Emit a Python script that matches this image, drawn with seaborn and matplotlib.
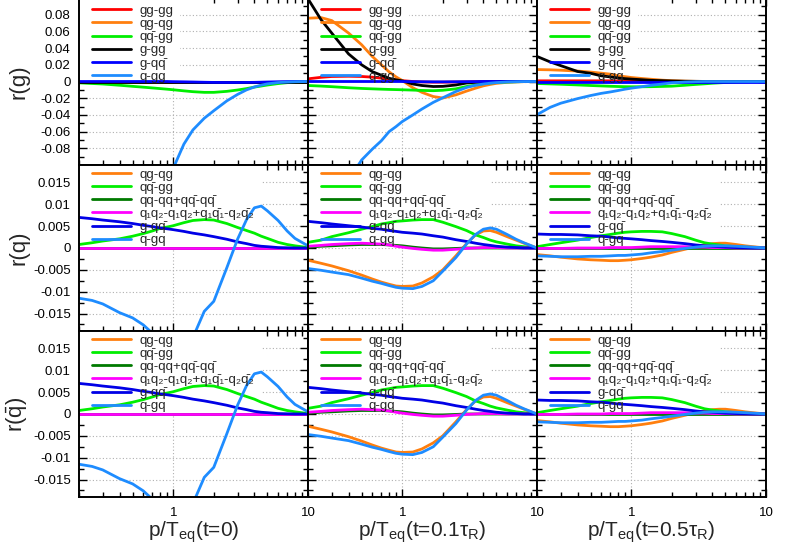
import numpy as np
import pandas as pd
import matplotlib
matplotlib.use("Agg")
import matplotlib.pyplot as plt
import seaborn as sns
from matplotlib.ticker import FixedLocator, NullFormatter, MultipleLocator, FuncFormatter
from matplotlib.patches import Rectangle

sns.set_theme(style="ticks")
plt.rcParams['font.family'] = ['Liberation Sans', 'DejaVu Sans']
plt.rcParams['mathtext.fontset'] = 'custom'
plt.rcParams['mathtext.rm'] = 'Liberation Sans'
plt.rcParams['mathtext.it'] = 'Liberation Sans:italic'
plt.rcParams['mathtext.bf'] = 'Liberation Sans:bold'

NaN = np.nan
# momentum grid p/T_eq
P = [0.2, 0.25, 0.3, 0.4, 0.5, 0.6, 0.7, 0.8, 0.9, 1.0, 1.2, 1.4, 1.7, 2.0,
     2.5, 3.0, 3.5, 4.0, 4.5, 5.0, 6.0, 7.0, 8.0, 10.0]

# ---------------- row 1 : r(g) ----------------
g_t0_gggg = [0]*24
g_t0_qgqg = [0]*24
g_t0_qqbgg = [-0.0016, -0.0024, -0.003, -0.0045, -0.0058, -0.0068, -0.0077, -0.0085, -0.0092, -0.0099,
              -0.0112, -0.0122, -0.013, -0.013, -0.0118, -0.0102, -0.0085, -0.0067, -0.0054, -0.0042,
              -0.0025, -0.0014, -0.0008, -0.0002]
g_t0_ggg = [0]*24
g_t0_gqqb = [0, 0, 0, 0, 0, 0, 0, 0, 0, -0.0002, -0.0004, -0.0006, -0.0009, -0.0011, -0.0012, -0.0012,
             -0.0011, -0.001, -0.0008, -0.0006, -0.0003, -0.0001, 0, 0]
g_t0_qgg = [NaN, NaN, NaN, NaN, NaN, NaN, NaN, NaN, -0.126, -0.104, -0.075, -0.058, -0.044, -0.035,
            -0.0232, -0.0155, -0.010, -0.0066, -0.0044, -0.0028, -0.0013, -0.0007, -0.0003, 0]

g_t1_gggg = [0.0032, 0.005, 0.006, 0.0063, 0.006, 0.0052, 0.004, 0.0028, 0.0018, 0.001, 0, -0.0005,
             -0.0008, -0.0008, -0.0006, -0.0004, -0.0002, -0.0001, 0, 0, 0, 0, 0, 0]
g_t1_qgqg = [0.0758, 0.0765, 0.073, 0.058, 0.044, 0.030, 0.020, 0.0115, 0.0055, 0.0012, -0.0075, -0.013,
             -0.018, -0.0198, -0.016, -0.0115, -0.008, -0.0052, -0.0035, -0.0022, -0.001, -0.0005,
             -0.0002, 0]
g_t1_qqbgg = [-0.0048, -0.0055, -0.0062, -0.0075, -0.0083, -0.0088, -0.0092, -0.0095, -0.0097, -0.0099,
              -0.0103, -0.0107, -0.011, -0.0105, -0.0088, -0.006, -0.0043, -0.0026, -0.0018, -0.0012,
              -0.0006, -0.0003, -0.0001, 0]
g_t1_ggg = [0.099, 0.074, 0.058, 0.033, 0.020, 0.0118, 0.0075, 0.0038, 0.002, 0.0008, -0.003, -0.0048,
            -0.006, -0.0058, -0.0042, -0.0018, -0.001, -0.0005, -0.0003, -0.0001, 0, 0, 0, 0]
g_t1_gqqb = [0, 0, 0, 0, 0, 0, 0, 0, 0, 0, -0.0002, -0.0003, -0.0004, -0.0004, -0.0003, -0.0002,
             -0.0001, 0, 0, 0, 0, 0, 0, 0]
g_t1_qgg = [NaN, NaN, NaN, -0.118, -0.094, -0.081, -0.071, -0.060, -0.054, -0.048, -0.040, -0.033,
            -0.025, -0.0195, -0.012, -0.0072, -0.0045, -0.003, -0.002, -0.0013, -0.0006, -0.0003,
            -0.0001, 0]

g_t5_gggg = [0.0008, 0.0008, 0.0008, 0.0008, 0.0008, 0.0008, 0.0008, 0.0007, 0.0007, 0.0006, 0.0005,
             0.0004, 0.0003, 0.0002, 0.0001, 0, 0, 0, 0, 0, 0, 0, 0, 0]
g_t5_qgqg = [0.0143, 0.014, 0.0135, 0.0125, 0.0113, 0.010, 0.0088, 0.0068, 0.0058, 0.0048, 0.0036,
             0.0027, 0.0016, 0.001, 0.0005, 0.0002, 0.0001, 0, 0, 0, 0, 0, 0, 0]
g_t5_qqbgg = [-0.0024, -0.0029, -0.0033, -0.0041, -0.0048, -0.0053, -0.0057, -0.006, -0.0062, -0.0063,
              -0.0063, -0.0062, -0.0059, -0.0056, -0.0045, -0.0035, -0.0028, -0.0021, -0.0016, -0.0012,
              -0.0006, -0.0003, -0.0001, 0]
g_t5_ggg = [0.030, 0.0235, 0.019, 0.012, 0.0098, 0.0068, 0.0055, 0.0043, 0.0034, 0.0029, 0.0021,
            0.0014, 0.001, 0.0006, 0.0003, 0.0002, 0.0001, 0, 0, 0, 0, 0, 0, 0]
g_t5_gqqb = [0]*24
g_t5_qgg = [-0.0397, -0.031, -0.026, -0.0205, -0.0168, -0.0142, -0.0125, -0.0108, -0.0092, -0.008,
            -0.0062, -0.0046, -0.003, -0.0016, -0.0006, -0.0002, 0, 0, 0, 0, 0, 0, 0, 0]

# ---------------- row 2 : r(q) ----------------
q_t0_qgqg = [0]*24
q_t0_qqbgg = [0.0008, 0.0012, 0.0016, 0.0021, 0.0027, 0.0033, 0.0039, 0.0045, 0.0048, 0.0051, 0.0058,
              0.0063, 0.0065, 0.0064, 0.0056, 0.0047, 0.004, 0.0034, 0.0027, 0.0022, 0.0013, 0.0008,
              0.0005, 0.0001]
q_t0_qqqq = [0]*24
q_t0_q1q2 = [0]*24
q_t0_gqqb = [0.007, 0.0067, 0.0064, 0.006, 0.0056, 0.0052, 0.0049, 0.0046, 0.0044, 0.0042, 0.0038,
             0.0034, 0.003, 0.0026, 0.002, 0.0014, 0.001, 0.0006, 0.0004, 0.0003, 0.0001, 0.00005, 0, 0]
q_t0_qgq = [-0.0115, -0.012, -0.0128, -0.0148, -0.016, -0.0176, -0.0195, -0.022, -0.024, -0.025,
            -0.024, -0.0205, -0.0145, -0.0122, -0.0045, 0.002, 0.0065, 0.0092, 0.0096, 0.0085,
            0.0063, 0.0039, 0.0022, 0.0005]

q_t1_qgqg = [-0.0028, -0.0035, -0.0041, -0.0052, -0.0062, -0.0071, -0.0078, -0.0083, -0.0087, -0.0088,
             -0.0087, -0.008, -0.0066, -0.005, -0.0018, 0.001, 0.003, 0.0039, 0.004, 0.0036, 0.0026,
             0.0018, 0.0011, 0]
q_t1_qqbgg = [0.0013, 0.0018, 0.0026, 0.0035, 0.0043, 0.0049, 0.0055, 0.0058, 0.0061, 0.0062, 0.0064,
              0.0065, 0.0065, 0.0059, 0.0049, 0.004, 0.003, 0.0024, 0.0018, 0.0014, 0.0009, 0.0005,
              0.0003, 0]
q_t1_qqqq = [0.0002, 0.0004, 0.0005, 0.0007, 0.0008, 0.0008, 0.0008, 0.0007, 0.0006, 0.0005, 0.0002,
             0, -0.0002, -0.0002, -0.0001, 0, 0, 0, 0, 0, 0, 0, 0, 0]
q_t1_q1q2 = [0.0004, 0.0006, 0.0008, 0.001, 0.0011, 0.001, 0.0009, 0.0007, 0.0004, 0.0002, -0.0001,
             -0.0003, -0.0005, -0.0005, -0.0003, -0.0001, 0, 0.0001, 0.0001, 0.0001, 0, 0, 0, 0]
q_t1_gqqb = [0.0061, 0.0058, 0.0055, 0.0051, 0.0048, 0.0045, 0.0043, 0.004, 0.0038, 0.0036, 0.0034,
             0.0032, 0.0028, 0.0025, 0.0019, 0.0015, 0.0011, 0.0008, 0.0006, 0.0004, 0.0002, 0.0001, 0, 0]
q_t1_qgq = [-0.0047, -0.0051, -0.0055, -0.0061, -0.0069, -0.0076, -0.0081, -0.0086, -0.009, -0.0092,
            -0.0093, -0.0088, -0.0075, -0.0053, -0.0022, 0.0009, 0.0031, 0.0043, 0.0046, 0.0043,
            0.0031, 0.002, 0.0012, 0]

q_t5_qgqg = [-0.0015, -0.0018, -0.0021, -0.0025, -0.0027, -0.0028, -0.0029, -0.0029, -0.0028, -0.0027,
             -0.0024, -0.0021, -0.0016, -0.001, -0.0003, 0.0003, 0.0007, 0.001, 0.0011, 0.0011,
             0.0008, 0.0005, 0.0003, 0]
q_t5_qqbgg = [0.0003, 0.0008, 0.0012, 0.0018, 0.0024, 0.0028, 0.0031, 0.0034, 0.0036, 0.0037, 0.0038,
              0.0038, 0.0037, 0.0033, 0.0026, 0.0018, 0.0012, 0.0009, 0.0007, 0.0005, 0.0003, 0.0002,
              0.0001, 0]
q_t5_qqqq = [0]*24
q_t5_q1q2 = [-0.0001, -0.0001, -0.0001, 0, 0, 0, 0.0001, 0.0001, 0.0001, 0.0001, 0.0002, 0.0003,
             0.0003, 0.0003, 0.0003, 0.0002, 0.0002, 0.0001, 0.0001, 0.0001, 0, 0, 0, 0]
q_t5_gqqb = [0.0032, 0.0031, 0.0031, 0.003, 0.0028, 0.0027, 0.0025, 0.0023, 0.0022, 0.0021, 0.0019,
             0.0017, 0.0015, 0.0013, 0.001, 0.0007, 0.0005, 0.0004, 0.0003, 0.0002, 0.0001, 0.00005, 0, 0]
q_t5_qgq = [-0.0018, -0.0019, -0.002, -0.002, -0.0019, -0.0019, -0.0018, -0.0017, -0.0017, -0.0016,
            -0.0014, -0.0011, -0.0008, -0.0005, -0.0001, 0.0002, 0.0004, 0.0005, 0.0005, 0.0005,
            0.0004, 0.0003, 0.0002, 0]

# ---------------- row 3 : r(qbar) (same values as read for r(q)) ----------------
qb_t0 = [q_t0_qgqg, q_t0_qqbgg, q_t0_qqqq, q_t0_q1q2, q_t0_gqqb, q_t0_qgq]
qb_t1 = [q_t1_qgqg, q_t1_qqbgg, q_t1_qqqq, q_t1_q1q2, q_t1_gqqb, q_t1_qgq]
qb_t5 = [q_t5_qgqg, q_t5_qqbgg, q_t5_qqqq, q_t5_q1q2, q_t5_gqqb, q_t5_qgq]

labels_g = ['gg-gg', 'qg-qg', 'qq\u0304-gg', 'g-gg', 'g-qq\u0304', 'q-gg']
colors_g = ['#ff0000', '#ff7f0e', '#00ee00', '#000000', '#0000ff', '#1e8cff']
labels_q = ['qg-qg', 'qq\u0304-gg', 'qq-qq+qq\u0304-qq\u0304',
            'q\u2081q\u2082-q\u2081q\u2082+q\u2081q\u0304\u2081-q\u2082q\u0304\u2082',
            'g-qq\u0304', 'q-gq']
colors_q = ['#ff7f0e', '#00ee00', '#007a00', '#ff00ff', '#0000e6', '#1e8cff']

yticks_g = [-0.08, -0.06, -0.04, -0.02, 0, 0.02, 0.04, 0.06, 0.08]
yticks_q = [-0.015, -0.01, -0.005, 0, 0.005, 0.01, 0.015]
xticks = [1, 10]
xminor = [0.2, 0.3, 0.4, 0.5, 0.6, 0.7, 0.8, 0.9, 2, 3, 4, 5, 6, 7, 8, 9]

rows = [
    dict(ylabel='r(g)', ylim=(-0.1, 0.1), ticks=yticks_g, minor=0.01, labels=labels_g, colors=colors_g,
         data=[[g_t0_gggg, g_t0_qgqg, g_t0_qqbgg, g_t0_ggg, g_t0_gqqb, g_t0_qgg],
               [g_t1_gggg, g_t1_qgqg, g_t1_qqbgg, g_t1_ggg, g_t1_gqqb, g_t1_qgg],
               [g_t5_gggg, g_t5_qgqg, g_t5_qqbgg, g_t5_ggg, g_t5_gqqb, g_t5_qgg]],
         box=(0.0, 0.47, 0.44, 0.53), anchor=0.96),
    dict(ylabel='r(q)', ylim=(-0.019, 0.019), ticks=yticks_q, minor=0.0025, labels=labels_q,
         colors=colors_q,
         data=[[q_t0_qgqg, q_t0_qqbgg, q_t0_qqqq, q_t0_q1q2, q_t0_gqqb, q_t0_qgq],
               [q_t1_qgqg, q_t1_qqbgg, q_t1_qqqq, q_t1_q1q2, q_t1_gqqb, q_t1_qgq],
               [q_t5_qgqg, q_t5_qqbgg, q_t5_qqqq, q_t5_q1q2, q_t5_gqqb, q_t5_qgq]],
         box=(0.0, 0.50, 0.80, 0.50), anchor=0.98),
    dict(ylabel=r'r($\bar{\rm q}$)', ylim=(-0.019, 0.019), ticks=yticks_q, minor=0.0025, labels=labels_q,
         colors=colors_q, data=[qb_t0, qb_t1, qb_t5], box=(0.0, 0.50, 0.80, 0.50), anchor=0.98),
]
xlabels = [r'p/T$_{\rm eq}$(t=0)', r'p/T$_{\rm eq}$(t=0.1τ$_{\rm R}$)', r'p/T$_{\rm eq}$(t=0.5τ$_{\rm R}$)']

fig = plt.figure(figsize=(7.89, 5.52), dpi=100)
W = 229 / 789
lefts = [79 / 789, 308 / 789, 537 / 789]
# (bottom, height) of each row in figure fraction
row_geom = [(1 - 165 / 552, 167 / 552), (1 - 331 / 552, 166 / 552), (1 - 497 / 552, 166 / 552)]

fmt = FuncFormatter(lambda v, pos: '%g' % round(v, 6))

for r, row in enumerate(rows):
    for c in range(3):
        ax = fig.add_axes([lefts[c], row_geom[r][0], W, row_geom[r][1]])
        ax.set_xscale('log')
        ax.set_xlim(0.2, 10)
        ax.set_ylim(*row['ylim'])
        ax.set_axisbelow(True)
        ax.grid(True, which='major', color='#b0b0b0', ls=(0, (1, 2)), lw=0.8)
        bx = row['box']
        ax.add_patch(Rectangle((bx[0], bx[1]), bx[2], bx[3], transform=ax.transAxes,
                               facecolor='white', edgecolor='none', zorder=1))
        for lab, col, vals in zip(row['labels'], row['colors'], row['data'][c]):
            df = pd.DataFrame({'p': P, 'r': vals}).dropna()
            sns.lineplot(data=df, x='p', y='r', ax=ax, color=col, lw=2.0, label=lab,
                         estimator=None, sort=False, zorder=2)
        ax.legend(loc='upper left', bbox_to_anchor=(0.055, row['anchor']), frameon=False,
                  fontsize=9.5, handlelength=3.0, handletextpad=0.6, labelspacing=0.07,
                  borderpad=0, borderaxespad=0)
        ax.xaxis.set_major_locator(FixedLocator(xticks))
        ax.xaxis.set_minor_locator(FixedLocator(xminor))
        ax.xaxis.set_minor_formatter(NullFormatter())
        ax.xaxis.set_major_formatter(FuncFormatter(lambda v, pos: '%g' % v))
        ax.yaxis.set_major_locator(FixedLocator(row['ticks']))
        ax.yaxis.set_minor_locator(MultipleLocator(row['minor']))
        ax.yaxis.set_major_formatter(fmt)
        ax.tick_params(which='both', direction='in', top=True, right=True, colors='black',
                       labelsize=9.5, width=1.0)
        ax.tick_params(which='major', length=6)
        ax.tick_params(which='minor', length=3.5)
        ax.tick_params(axis='x', pad=7)
        ax.tick_params(axis='y', pad=6)
        for s in ax.spines.values():
            s.set_color('black')
            s.set_linewidth(1.4)
        ax.set_xlabel('')
        ax.set_ylabel('')
        if c == 0:
            ax.set_ylabel(row['ylabel'], fontsize=16)
            ax.yaxis.set_label_coords(-0.214, 0.5)
        else:
            ax.tick_params(labelleft=False)
        if r == 2:
            ax.set_xlabel(xlabels[c], fontsize=15)
            ax.xaxis.set_label_coords(0.5, -0.135)
        else:
            ax.tick_params(labelbottom=False)

fig.savefig('out.png', dpi=100)
